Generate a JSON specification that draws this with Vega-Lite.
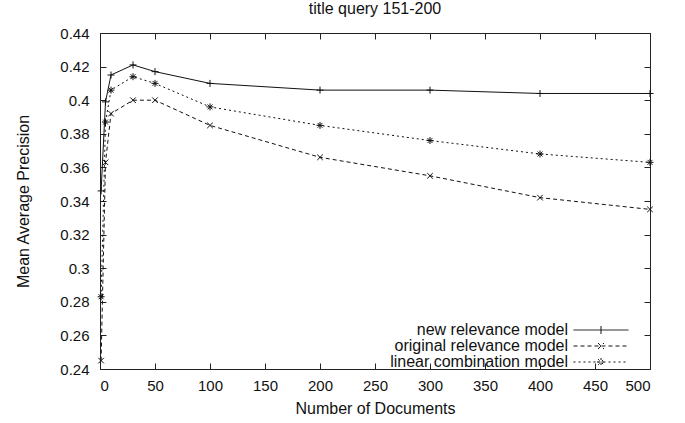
{
  "$schema": "https://vega.github.io/schema/vega-lite/v6.json",
  "width": 550,
  "height": 336,
  "autosize": {"type": "none"},
  "padding": {"left": 100, "top": 33, "right": 35, "bottom": 54},
  "background": "white",
  "title": {"text": "title query 151-200", "fontSize": 16, "font": "Liberation Sans", "fontWeight": "normal", "offset": 9, "color": "#111"},
  "config": {
    "view": {"stroke": "#222", "strokeWidth": 1},
    "font": "Liberation Sans",
    "axis": {"grid": false, "domain": false, "tickColor": "#222", "labelColor": "#111", "titleColor": "#111", "labelFont": "Liberation Sans", "titleFont": "Liberation Sans", "labelFontSize": 15, "titleFontSize": 16, "titleFontWeight": "normal"}
  },
  "data": {"values": [
    {"model": "new relevance model", "docs": 1, "map": 0.346},
    {"model": "new relevance model", "docs": 5, "map": 0.399},
    {"model": "new relevance model", "docs": 10, "map": 0.415},
    {"model": "new relevance model", "docs": 30, "map": 0.421},
    {"model": "new relevance model", "docs": 50, "map": 0.417},
    {"model": "new relevance model", "docs": 100, "map": 0.410},
    {"model": "new relevance model", "docs": 200, "map": 0.406},
    {"model": "new relevance model", "docs": 300, "map": 0.406},
    {"model": "new relevance model", "docs": 400, "map": 0.404},
    {"model": "new relevance model", "docs": 500, "map": 0.404},
    {"model": "original relevance model", "docs": 1, "map": 0.245},
    {"model": "original relevance model", "docs": 5, "map": 0.363},
    {"model": "original relevance model", "docs": 10, "map": 0.392},
    {"model": "original relevance model", "docs": 30, "map": 0.400},
    {"model": "original relevance model", "docs": 50, "map": 0.400},
    {"model": "original relevance model", "docs": 100, "map": 0.385},
    {"model": "original relevance model", "docs": 200, "map": 0.366},
    {"model": "original relevance model", "docs": 300, "map": 0.355},
    {"model": "original relevance model", "docs": 400, "map": 0.342},
    {"model": "original relevance model", "docs": 500, "map": 0.335},
    {"model": "linear combination model", "docs": 1, "map": 0.283},
    {"model": "linear combination model", "docs": 5, "map": 0.387},
    {"model": "linear combination model", "docs": 10, "map": 0.406},
    {"model": "linear combination model", "docs": 30, "map": 0.414},
    {"model": "linear combination model", "docs": 50, "map": 0.410},
    {"model": "linear combination model", "docs": 100, "map": 0.396},
    {"model": "linear combination model", "docs": 200, "map": 0.385},
    {"model": "linear combination model", "docs": 300, "map": 0.376},
    {"model": "linear combination model", "docs": 400, "map": 0.368},
    {"model": "linear combination model", "docs": 500, "map": 0.363}
  ]},
  "resolve": {"axis": {"x": "independent", "y": "independent"}, "scale": {"shape": "independent", "strokeDash": "independent"}, "legend": {"shape": "independent", "strokeDash": "independent"}},
  "layer": [
    {
      "transform": [{"filter": "datum.model === 'new relevance model'"}],
      "mark": {"type": "line", "strokeWidth": 1, "color": "#111"},
      "encoding": {
        "x": {"field": "docs", "type": "quantitative", "scale": {"domain": [0, 500], "nice": false},
              "axis": {"orient": "bottom", "values": [0,50,100,150,200,250,300,350,400,450,500], "tickSize": -6, "labelPadding": 15, "title": "Number of Documents", "titlePadding": 7}},
        "y": {"field": "map", "type": "quantitative", "scale": {"domain": [0.24, 0.44], "zero": false, "nice": false},
              "axis": {"orient": "left", "values": [0.24,0.26,0.28,0.3,0.32,0.34,0.36,0.38,0.4,0.42,0.44], "format": ".2~f", "tickSize": -6, "labelPadding": 17, "title": "Mean Average Precision", "titlePadding": 28}}
      }
    },
    {
      "transform": [{"filter": "datum.model === 'original relevance model'"}],
      "mark": {"type": "line", "strokeWidth": 1, "color": "#111", "strokeDash": [4, 3]},
      "encoding": {
        "x": {"field": "docs", "type": "quantitative", "axis": null},
        "y": {"field": "map", "type": "quantitative", "axis": null}
      }
    },
    {
      "transform": [{"filter": "datum.model === 'linear combination model'"}],
      "mark": {"type": "line", "strokeWidth": 1, "color": "#111", "strokeDash": [2, 3]},
      "encoding": {
        "x": {"field": "docs", "type": "quantitative", "axis": null},
        "y": {"field": "map", "type": "quantitative", "axis": null}
      }
    },
    {
      "mark": {"type": "point", "filled": false, "color": "#111", "strokeWidth": 1, "size": 49, "opacity": 1},
      "encoding": {
        "x": {"field": "docs", "type": "quantitative", "scale": {"domain": [0, 500], "nice": false},
              "axis": {"orient": "top", "values": [0,50,100,150,200,250,300,350,400,450,500], "tickSize": -6, "labels": false, "title": null}},
        "y": {"field": "map", "type": "quantitative", "scale": {"domain": [0.24, 0.44], "zero": false, "nice": false},
              "axis": {"orient": "right", "values": [0.24,0.26,0.28,0.3,0.32,0.34,0.36,0.38,0.4,0.42,0.44], "tickSize": -6, "labels": false, "title": null}},
        "shape": {"field": "model", "type": "nominal",
              "scale": {"domain": ["new relevance model", "original relevance model", "linear combination model"],
                        "range": ["M-1,0H1M0,-1V1", "M-0.8,-0.8L0.8,0.8M-0.8,0.8L0.8,-0.8", "M-1,0H1M0,-1V1M-0.7,-0.7L0.7,0.7M-0.7,0.7L0.7,-0.7"]},
              "legend": null}
      }
    },
    {
      "mark": {"type": "point", "filled": false, "color": "#111", "strokeWidth": 1, "opacity": 0},
      "encoding": {
        "x": {"field": "docs", "type": "quantitative", "axis": null},
        "y": {"field": "map", "type": "quantitative", "axis": null},
        "shape": {"field": "model", "type": "nominal",
              "scale": {"domain": ["new relevance model", "original relevance model", "linear combination model"],
                        "range": ["M-3.667,0H3.667M0,-0.533V0.533", "M-3.667,0H3.667M-0.4,-0.4L0.4,0.4M-0.4,0.4L0.4,-0.4", "M-3.667,0H3.667M0,-0.533V0.533M-0.533,0H0.533M-0.38,-0.38L0.38,0.38M-0.38,0.38L0.38,-0.38"]},
              "legend": {"title": null, "orient": "none", "legendX": 493, "legendY": 289, "padding": 0, "rowPadding": -1,
                         "symbolSize": 225, "symbolStrokeColor": "#111", "symbolStrokeWidth": 1, "symbolFillColor": "transparent", "symbolOpacity": 1,
                         "labelAlign": "right", "labelOffset": -41, "labelLimit": 0, "labelFontSize": 16, "labelColor": "#111", "labelFont": "Liberation Sans"}},
        "strokeDash": {"field": "model", "type": "nominal",
              "scale": {"domain": ["new relevance model", "original relevance model", "linear combination model"], "range": [[1, 0], [4, 3], [2, 3]]}}
      }
    }
  ]
}
